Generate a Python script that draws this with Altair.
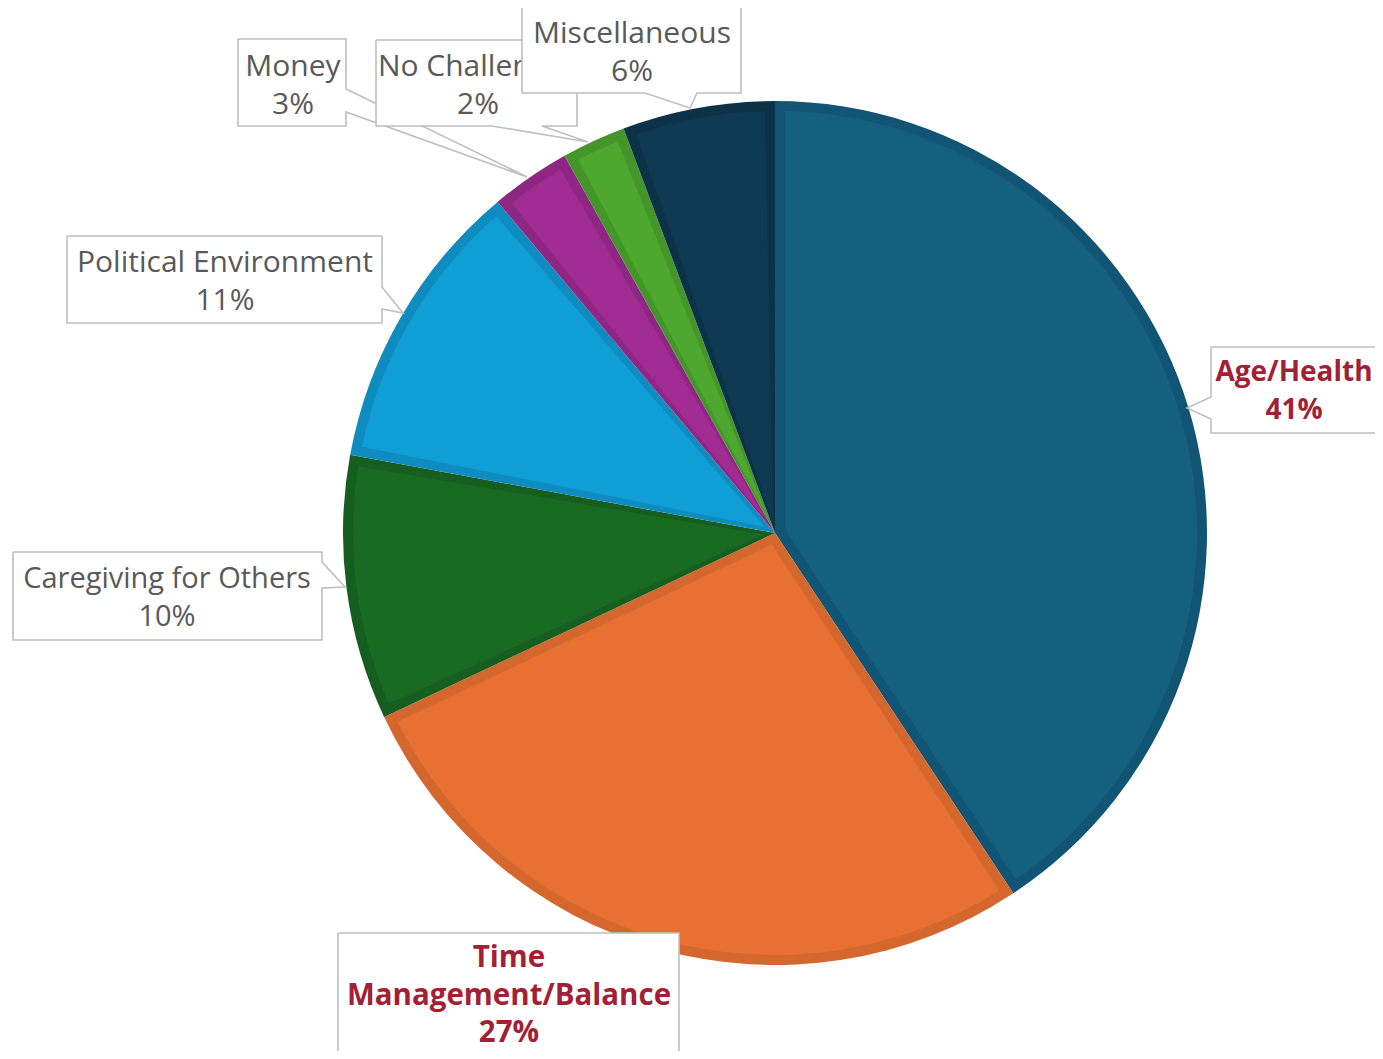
import math
import altair as alt
import pandas as pd

# ---------------- data ----------------
categories = ["Age/Health", "Time Management/Balance", "Caregiving for Others",
              "Political Environment", "Money", "No Challenges", "Miscellaneous"]
shares = [40.7, 27.3, 9.9, 11.0, 3.0, 2.4, 5.7]

# ---------------- styles ----------------
fill_colors = ["#15607F", "#E87032", "#196B24", "#0F9ED5", "#A02B93", "#4EA72E", "#0E3A51"]
edge_colors = ["#115474", "#D4672D", "#165D20", "#0E8CC0", "#8E2683", "#44962A", "#0B3246"]
GRAY_TEXT = "#595959"
RED_TEXT = "#A31F34"
BOX_LINE = "#BFBFBF"
FONT = "Open Sans"
FS = 30
FS_BOLD = 29.5

W, H = 1367, 1043
OFF = 8
CX, CY = 775 - OFF, 533 - OFF
R_OUT = 432
BAND = 10
R_IN = 12
PAD = 2 * BAND / math.sqrt(R_IN ** 2 + (R_OUT - BAND) ** 2)

# ---------------- callout layout (page pixels) ----------------
layout = {
    "Caregiving for Others": dict(
        box=(13, 552, 322, 640),
        path=[(13, 552), (322, 552), (322, 562), (345, 587), (322, 588), (322, 640), (13, 640), (13, 552)],
        cx=167, base=588, lines=["Caregiving for Others"], bold=False, fs=29),
    "Political Environment": dict(
        box=(67, 236, 382, 323),
        path=[(67, 236), (382, 236), (382, 287), (403, 313), (382, 309), (382, 323), (67, 323), (67, 236)],
        cx=225, base=272, lines=["Political Environment"], bold=False, fs=FS),
    "Money": dict(
        box=(238, 39, 346, 126),
        path=[(238, 39), (346, 39), (346, 89), (527, 177), (346, 112), (346, 126), (238, 126), (238, 39)],
        cx=293, base=76, lines=["Money"], bold=False, fs=FS),
    "No Challenges": dict(
        box=(376, 40, 577, 126),
        path=[(376, 40), (577, 40), (577, 126), (542, 126), (588, 142), (492, 126), (376, 126), (376, 40)],
        cx=478, base=76, lines=["No Challenges"], bold=False, fs=FS),
    "Miscellaneous": dict(
        box=(522, 7, 741, 93),
        path=[(522, 7), (741, 7), (741, 93), (697, 93), (690, 108), (645, 93), (522, 93), (522, 7)],
        cx=632, base=43, lines=["Miscellaneous"], bold=False, fs=FS),
    "Age/Health": dict(
        box=(1211, 347, 1420, 433),
        path=[(1211, 347), (1420, 347), (1420, 433), (1211, 433), (1211, 419), (1187, 408), (1211, 397), (1211, 347)],
        cx=1294, base=381, lines=["Age/Health"], bold=True, fs=28),
    "Time Management/Balance": dict(
        box=(338, 933, 679, 1080),
        path=[(338, 933), (679, 933), (679, 1080), (338, 1080), (338, 933)],
        cx=509, base=967, lines=["Time", "Management/Balance"], bold=True, fs=FS_BOLD),
}
draw_order = ["Caregiving for Others", "Political Environment", "Money", "No Challenges",
              "Miscellaneous", "Age/Health", "Time Management/Balance"]
LINE_STEP = 37.5

# ---------------- tables ----------------
pie_df = pd.DataFrame({
    "cat": categories,
    "value": shares,
    "idx": list(range(len(categories))),
    "fill": fill_colors,
    "edge": edge_colors,
})

box_rows, path_rows, text_rows = [], [], []
for cat, val in zip(categories, shares):
    L = layout[cat]
    x0, y0, x1, y1 = L["box"]
    box_rows.append(dict(cat=cat, x=x0 - OFF, y=y0 - OFF, x2=x1 - OFF, y2=y1 - OFF))
    for k, (px, py) in enumerate(L["path"]):
        path_rows.append(dict(cat=cat, k=k, px=px - OFF, py=py - OFF))
    lines = L["lines"] + [f"{round(val):d}%"]
    for i, t in enumerate(lines):
        text_rows.append(dict(cat=cat, text=t, tx=L["cx"] - OFF, ty=L["base"] + i * LINE_STEP - OFF))

box_df = pd.DataFrame(box_rows)
path_df = pd.DataFrame(path_rows)
text_df = pd.DataFrame(text_rows)

# ---------------- pie ----------------
pie_base = alt.Chart(pie_df).encode(
    theta=alt.Theta("value:Q", stack=True),
    order=alt.Order("idx:Q"),
    x=alt.value(CX),
    y=alt.value(CY),
)
dark = pie_base.mark_arc(radius=R_OUT).encode(
    color=alt.Color("edge:N", scale=None),
)
light = pie_base.mark_arc(radius=R_OUT - BAND, radius2=R_IN, padAngle=PAD).encode(
    color=alt.Color("fill:N", scale=None),
)

layers = [dark, light]
for cat in draw_order:
    L = layout[cat]
    rect = alt.Chart(box_df).transform_filter(alt.datum.cat == cat).mark_rect(
        fill="white", strokeWidth=0
    ).encode(
        x=alt.X("x:Q", scale=None), x2="x2:Q",
        y=alt.Y("y:Q", scale=None), y2="y2:Q",
    )
    outline = alt.Chart(path_df).transform_filter(alt.datum.cat == cat).mark_line(
        stroke=BOX_LINE, strokeWidth=1.6, strokeJoin="miter"
    ).encode(
        x=alt.X("px:Q", scale=None),
        y=alt.Y("py:Q", scale=None),
        order=alt.Order("k:Q"),
    )
    txt = alt.Chart(text_df).transform_filter(alt.datum.cat == cat).mark_text(
        font=FONT, fontSize=L["fs"], align="center", baseline="alphabetic",
        fontWeight="bold" if L["bold"] else "normal",
        color=RED_TEXT if L["bold"] else GRAY_TEXT,
    ).encode(
        x=alt.X("tx:Q", scale=None),
        y=alt.Y("ty:Q", scale=None),
        text="text:N",
    )
    layers += [rect, outline, txt]

chart = alt.layer(*layers).properties(
    width=W, height=H, padding=0, autosize="none", background="white"
).configure_view(stroke=None)

chart.save("out.html", embed_options={"renderer": "svg", "actions": False})
